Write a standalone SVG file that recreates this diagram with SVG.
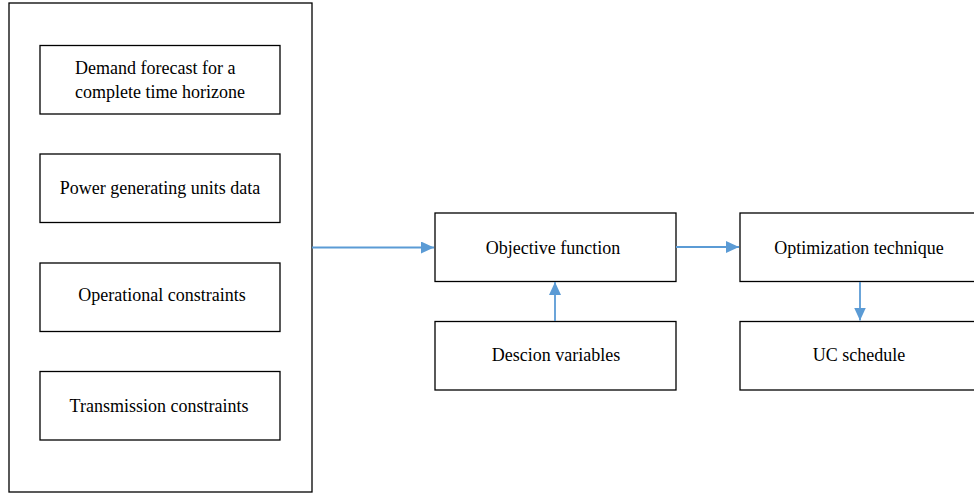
<svg xmlns="http://www.w3.org/2000/svg" width="974" height="495" viewBox="0 0 974 495">
  <style>
    .box { fill: #ffffff; stroke: #000000; stroke-width: 1.3; }
    .lbl { font-family: "Liberation Serif", "Times New Roman", serif; font-size: 18px; fill: #000000; text-anchor: middle; }
    .lbl.left { text-anchor: start; }
    .conn { stroke: #5B9BD5; stroke-width: 1.8; fill: none; marker-end: url(#arrow); }
  </style>
  <defs>
    <marker id="arrow" viewBox="0 0 13 12" refX="13" refY="6" markerWidth="13" markerHeight="12" markerUnits="userSpaceOnUse" orient="auto">
      <path d="M0,0 L13,6 L0,12 z" fill="#5B9BD5"/>
    </marker>
  </defs>
  <rect width="974" height="495" fill="#ffffff"/>

  <g id="inputs">
    <rect class="box" x="9" y="3" width="303" height="489"/>
  </g>
  <g id="demand">
    <rect class="box" x="40" y="45.5" width="240" height="68.5"/>
    <text class="lbl left" x="75" y="74">Demand forecast for a</text>
    <text class="lbl left" x="75" y="98">complete time horizone</text>
  </g>
  <g id="units">
    <rect class="box" x="40" y="154" width="240" height="68.5"/>
    <text class="lbl" x="160" y="194">Power generating units data</text>
  </g>
  <g id="operational">
    <rect class="box" x="40" y="263" width="240" height="68.5"/>
    <text class="lbl" x="162" y="301">Operational constraints</text>
  </g>
  <g id="transmission">
    <rect class="box" x="40" y="371.5" width="240" height="68.5"/>
    <text class="lbl" x="159" y="412">Transmission constraints</text>
  </g>
  <g id="objective">
    <rect class="box" x="435" y="213" width="241" height="68.5"/>
    <text class="lbl" x="553" y="254">Objective function</text>
  </g>
  <g id="decision">
    <rect class="box" x="435" y="321.5" width="241" height="68.5"/>
    <text class="lbl" x="556" y="361">Descion variables</text>
  </g>
  <g id="optimization">
    <rect class="box" x="740" y="213" width="250" height="68.5"/>
    <text class="lbl" x="859" y="254">Optimization technique</text>
  </g>
  <g id="schedule">
    <rect class="box" x="740" y="321.5" width="250" height="68.5"/>
    <text class="lbl" x="859" y="361">UC schedule</text>
  </g>

  <g id="connectors">
    <path class="conn" d="M312,247.5 L434,247.5"/>
    <path class="conn" d="M676,247 L739,247"/>
    <path class="conn" d="M555,321 L555,282"/>
    <path class="conn" d="M860,282 L860,320.5"/>
  </g>
</svg>
